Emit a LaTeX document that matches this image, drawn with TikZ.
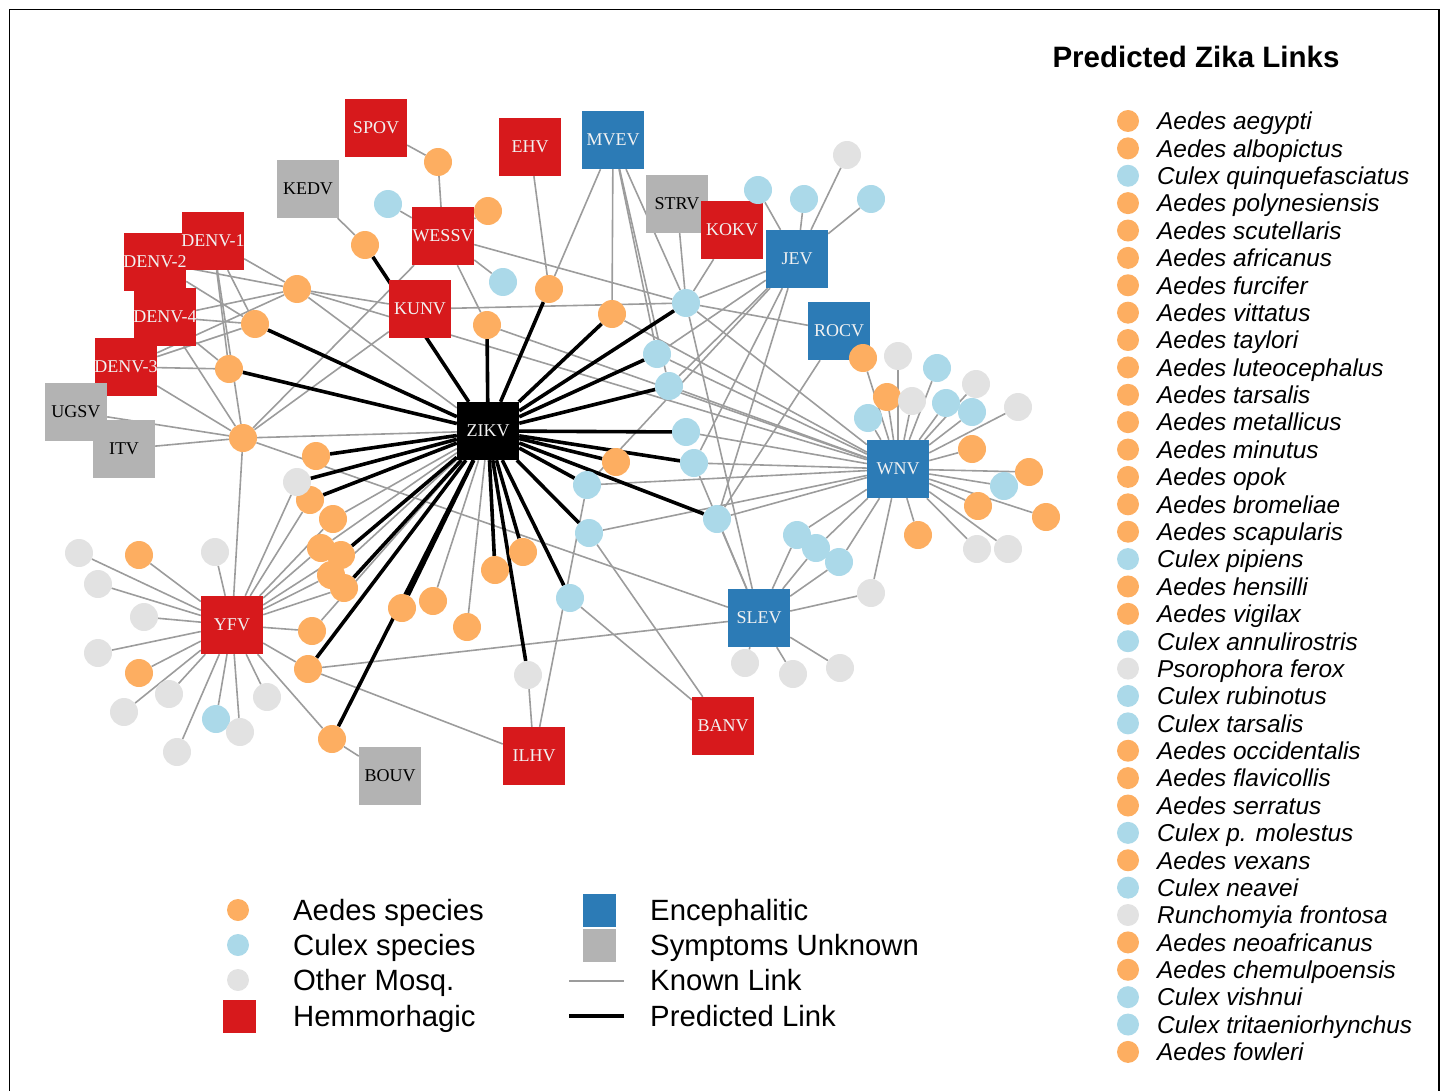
\documentclass[tikz,border=0pt]{standalone}
\usepackage{fontspec}
\setmainfont{Liberation Serif}
\newfontfamily\lsans{Liberation Sans}
\pgfdeclarelayer{edgelayer}
\pgfsetlayers{edgelayer,main}
\definecolor{aed}{HTML}{FDAE61}
\definecolor{cul}{HTML}{ABD9E9}
\definecolor{oth}{HTML}{E2E2E2}
\definecolor{hem}{HTML}{D7191C}
\definecolor{enc}{HTML}{2C7BB6}
\definecolor{unk}{HTML}{B3B3B3}
\definecolor{lnk}{HTML}{9C9C9C}
\definecolor{lbltxt}{HTML}{F2F2F2}
\tikzset{
 mos/.style={circle, minimum size=28pt, inner sep=0pt, draw=none},
 ma/.style={mos, fill=aed}, mc/.style={mos, fill=cul}, mg/.style={mos, fill=oth},
 vir/.style={rectangle, minimum width=62pt, minimum height=58pt, inner sep=0pt, draw=none},
 vh/.style={vir, fill=hem}, ve/.style={vir, fill=enc}, vu/.style={vir, fill=unk}, vz/.style={vir, fill=black},
 vlab/.style={font=\fontsize{18}{18}\selectfont, text=lbltxt, inner sep=0pt},
 vlabd/.style={vlab, text=black},
 known/.style={draw=lnk, line width=1.6pt},
 pred/.style={draw=black, line width=3.6pt},
 legdot/.style={circle, minimum size=22pt, inner sep=0pt, draw=none},
 legtxt/.style={anchor=base west, inner sep=0pt, font=\lsans\itshape\fontsize{24.4}{26}\selectfont},
 bigtxt/.style={anchor=base west, inner sep=0pt, font=\lsans\fontsize{29.3}{31}\selectfont},
}
\begin{document}
\begin{tikzpicture}[x=1pt,y=-1pt]
\useasboundingbox (0,0) rectangle (1447,1091);
\draw[line width=1.5pt] (9.5,1091) -- (9.5,9.5) -- (1439,9.5) -- (1439,1091);

% virus squares
\node[vz] (ZIKV) at (488,431) {};
\node[vh] (SPOV) at (376,128) {};
\node[vh] (EHV) at (530,147) {};
\node[ve] (MVEV) at (613,140) {};
\node[vu] (KEDV) at (308,189) {};
\node[vu] (STRV) at (677,204) {};
\node[vh] (KOKV) at (732,230) {};
\node[ve] (JEV) at (797,259) {};
\node[vh] (WESSV) at (443,236) {};
\node[vh] (DENV2) at (155,262) {};
\node[vh] (DENV1) at (213,241) {};
\node[vh] (DENV4) at (165,317) {};
\node[vh] (DENV3) at (126,367) {};
\node[vh] (KUNV) at (420,309) {};
\node[ve] (ROCV) at (839,331) {};
\node[vu] (UGSV) at (76,412) {};
\node[vu] (ITV) at (124,449) {};
\node[ve] (WNV) at (898,469) {};
\node[vh] (YFV) at (232,625) {};
\node[ve] (SLEV) at (759,618) {};
\node[vh] (BANV) at (723,726) {};
\node[vh] (ILHV) at (534,756) {};
\node[vu] (BOUV) at (390,776) {};

% mosquitoes
\node[ma] (o1) at (438,162) {};
\node[mc] (c1) at (388,204) {};
\node[ma] (o2) at (488,211) {};
\node[ma] (o3) at (365,245) {};
\node[mc] (c2) at (503,282) {};
\node[ma] (o4) at (549,289) {};
\node[ma] (o5) at (487,325) {};
\node[ma] (o6) at (612,314) {};
\node[mc] (c3) at (686,303) {};
\node[mc] (c4) at (657,354) {};
\node[mc] (c5) at (669,386) {};
\node[mc] (c6) at (686,432) {};
\node[mc] (c7) at (694,463) {};
\node[ma] (o7) at (616,462) {};
\node[mc] (c8) at (587,485) {};
\node[mc] (c9) at (589,533) {};
\node[mc] (c10) at (717,519) {};
\node[mc] (c11) at (570,598) {};
\node[ma] (o8) at (523,552) {};
\node[ma] (o9) at (495,570) {};
\node[ma] (o10) at (433,601) {};
\node[ma] (o11) at (402,608) {};
\node[ma] (o12) at (467,627) {};
\node[mg] (g1) at (528,675) {};
\node[mc] (c12) at (797,535) {};
\node[mc] (c13) at (816,548) {};
\node[mc] (c14) at (839,562) {};
\node[mg] (g2) at (871,593) {};
\node[mg] (g3) at (745,663) {};
\node[mg] (g4) at (793,674) {};
\node[mg] (g5) at (840,668) {};
\node[mc] (c15) at (868,418) {};
\node[mg] (g6) at (847,155) {};
\node[mc] (c16) at (758,190) {};
\node[mc] (c17) at (804,199) {};
\node[mc] (c18) at (871,199) {};
\node[ma] (o13) at (863,358) {};
\node[mg] (g7) at (898,356) {};
\node[mc] (c19) at (937,368) {};
\node[mg] (g8) at (976,384) {};
\node[ma] (o14) at (887,397) {};
\node[mg] (g9) at (912,401) {};
\node[mc] (c20) at (946,403) {};
\node[mc] (c21) at (972,412) {};
\node[mg] (g10) at (1018,407) {};
\node[ma] (o15) at (972,449) {};
\node[ma] (o16) at (1029,472) {};
\node[mc] (c22) at (1004,486) {};
\node[ma] (o17) at (978,506) {};
\node[ma] (o18) at (1046,517) {};
\node[ma] (o19) at (918,535) {};
\node[mg] (g11) at (977,549) {};
\node[mg] (g12) at (1008,549) {};
\node[ma] (o20) at (297,289) {};
\node[ma] (o21) at (255,324) {};
\node[ma] (o22) at (229,369) {};
\node[ma] (o23) at (243,438) {};
\node[ma] (o24) at (316,456) {};
\node[ma] (o25) at (310,500) {};
\node[mg] (g13) at (297,482) {};
\node[ma] (o26) at (333,519) {};
\node[ma] (o27) at (321,548) {};
\node[ma] (o28) at (341,555) {};
\node[ma] (o29) at (331,575) {};
\node[ma] (o30) at (344,588) {};
\node[ma] (o31) at (312,631) {};
\node[ma] (o32) at (308,669) {};
\node[ma] (o35) at (332,739) {};
\node[mg] (g14) at (79,553) {};
\node[ma] (o33) at (139,555) {};
\node[mg] (g15) at (215,552) {};
\node[mg] (g16) at (98,584) {};
\node[mg] (g17) at (144,617) {};
\node[mg] (g18) at (98,653) {};
\node[ma] (o34) at (139,673) {};
\node[mg] (g19) at (169,694) {};
\node[mg] (g20) at (124,712) {};
\node[mc] (c23) at (216,719) {};
\node[mg] (g21) at (240,732) {};
\node[mg] (g22) at (267,697) {};
\node[mg] (g23) at (177,752) {};

% virus labels (on top)
\node[vlab] (tZIKV) at (ZIKV) {ZIKV};
\node[vlab] (tSPOV) at (SPOV) {SPOV};
\node[vlab] (tEHV) at (EHV) {EHV};
\node[vlab] (tMVEV) at (MVEV) {MVEV};
\node[vlabd] (tKEDV) at (KEDV) {KEDV};
\node[vlabd] (tSTRV) at (STRV) {STRV};
\node[vlab] (tKOKV) at (KOKV) {KOKV};
\node[vlab] (tJEV) at (JEV) {JEV};
\node[vlab] (tWESSV) at (WESSV) {WESSV};
\node[vlab] (tDENV1) at (DENV1) {DENV-1};
\node[vlab] (tDENV2) at (DENV2) {DENV-2};
\node[vlab] (tDENV4) at (DENV4) {DENV-4};
\node[vlab] (tDENV3) at (DENV3) {DENV-3};
\node[vlab] (tKUNV) at (KUNV) {KUNV};
\node[vlab] (tROCV) at (ROCV) {ROCV};
\node[vlabd] (tUGSV) at (UGSV) {UGSV};
\node[vlabd] (tITV) at (ITV) {ITV};
\node[vlab] (tWNV) at (WNV) {WNV};
\node[vlab] (tYFV) at (YFV) {YFV};
\node[vlab] (tSLEV) at (SLEV) {SLEV};
\node[vlab] (tBANV) at (BANV) {BANV};
\node[vlab] (tILHV) at (ILHV) {ILHV};
\node[vlabd] (tBOUV) at (BOUV) {BOUV};

\begin{pgfonlayer}{edgelayer}
\foreach \a/\b in {SPOV/o1, WESSV/o1, WESSV/c1, WESSV/o2, KEDV/o3, WESSV/c2, WESSV/o5, WESSV/c3, WESSV/o23,
 KUNV/c3, KUNV/o20, KUNV/o23, EHV/o4, MVEV/o4, MVEV/o6, MVEV/c4, MVEV/c3, MVEV/c5,
 STRV/c3, KOKV/c3, JEV/c3, JEV/c16, JEV/c17, JEV/g6, JEV/c18, JEV/c4, JEV/c5, JEV/c7, JEV/c8, JEV/c10,
 ROCV/c3, ROCV/c10,
 WNV/c3, WNV/c4, WNV/c5, WNV/c6, WNV/c7, WNV/c8, WNV/c9, WNV/c10, WNV/o5, WNV/o6, WNV/o20,
 WNV/c12, WNV/c13, WNV/c14, WNV/g2, WNV/o13, WNV/g7, WNV/c19, WNV/g8, WNV/o14, WNV/g9, WNV/c20,
 WNV/c21, WNV/g10, WNV/c15, WNV/o15, WNV/o16, WNV/c22, WNV/o17, WNV/o18, WNV/o19, WNV/g11, WNV/g12,
 SLEV/c3, SLEV/c7, SLEV/c10, SLEV/c12, SLEV/c13, SLEV/c14, SLEV/g2, SLEV/g3, SLEV/g4, SLEV/g5,
 SLEV/o23, SLEV/o32,
 BANV/c9, BANV/c11, ILHV/g1, ILHV/c8, ILHV/o32, BOUV/o35,
 YFV/o23, YFV/g14, YFV/o33, YFV/g15, YFV/g16, YFV/g17, YFV/g18, YFV/o34, YFV/g19, YFV/g20, YFV/c23,
 YFV/g21, YFV/g22, YFV/g23, YFV/o35, YFV/o31, YFV/o32, YFV/g13, YFV/o25, YFV/o26, YFV/o27, YFV/o28,
 YFV/o29, YFV/o30,
 DENV1/o20, DENV1/o21, DENV1/o22, DENV1/o23, DENV2/o20, DENV2/o21, DENV4/o20, DENV4/o21, DENV4/o22,
 DENV4/o23, DENV3/o20, DENV3/o21, DENV3/o22, DENV3/o23, UGSV/o23, ITV/o23,
 ZIKV/o23, ZIKV/o20, ZIKV/o26, ZIKV/o27, ZIKV/o29, ZIKV/o31, ZIKV/o10, ZIKV/o12}
 {\draw[known] (\a) -- (\b);}
\foreach \b in {o3, o5, o4, o6, c3, c4, c5, c6, c7, o7, c8, c9, c10, c11, o8, o9, g1, o11, o35, o32,
 o30, o28, o25, g13, o24, o21, o22}
 {\draw[pred] (ZIKV) -- (\b);}
\end{pgfonlayer}

% bottom legend
\node[legdot, fill=aed] (la) at (238,910) {};
\node[legdot, fill=cul] (lc) at (238,945) {};
\node[legdot, fill=oth] (lo) at (238,980) {};
\node[rectangle, minimum size=33pt, inner sep=0pt, fill=hem] (lh) at (239,1016) {};
\node[bigtxt] (tla) at (293,920) {Aedes species};
\node[bigtxt] (tlc) at (293,955) {Culex species};
\node[bigtxt] (tlo) at (293,990) {Other Mosq.};
\node[bigtxt] (tlh) at (293,1026) {Hemmorhagic};
\node[rectangle, minimum size=33pt, inner sep=0pt, fill=enc] (le) at (599,910) {};
\node[rectangle, minimum size=33pt, inner sep=0pt, fill=unk] (lu) at (599,945) {};
\coordinate (lk1) at (569,981);
\coordinate (lk2) at (624,981);
\coordinate (lp1) at (569,1016);
\coordinate (lp2) at (624,1016);
\draw[known] (lk1) -- (lk2);
\draw[pred] (lp1) -- (lp2);
\node[bigtxt] (tle) at (650,920) {Encephalitic};
\node[bigtxt] (tlu) at (650,955) {Symptoms Unknown};
\node[bigtxt] (tlk) at (650,990) {Known Link};
\node[bigtxt] (tlp) at (650,1026) {Predicted Link};

% right legend
\node[inner sep=0pt, font=\lsans\bfseries\fontsize{29.5}{31}\selectfont] (title) at (1196,57) {Predicted Zika Links};
\foreach \nm/\cl [count=\i from 0] in {Aedes aegypti/aed, Aedes albopictus/aed, Culex quinquefasciatus/cul,
 Aedes polynesiensis/aed, Aedes scutellaris/aed, Aedes africanus/aed, Aedes furcifer/aed, Aedes vittatus/aed,
 Aedes taylori/aed, Aedes luteocephalus/aed, Aedes tarsalis/aed, Aedes metallicus/aed, Aedes minutus/aed,
 Aedes opok/aed, Aedes bromeliae/aed, Aedes scapularis/aed, Culex pipiens/cul, Aedes hensilli/aed,
 Aedes vigilax/aed, Culex annulirostris/cul, Psorophora ferox/oth, Culex rubinotus/cul, Culex tarsalis/cul,
 Aedes occidentalis/aed, Aedes flavicollis/aed, Aedes serratus/aed, Culex p. molestus/cul, Aedes vexans/aed,
 Culex neavei/cul, Runchomyia frontosa/oth, Aedes neoafricanus/aed, Aedes chemulpoensis/aed,
 Culex vishnui/cul, Culex tritaeniorhynchus/cul, Aedes fowleri/aed}
{
 \node[legdot, fill=\cl] (L\i) at (1128,{121+27.38*\i}) {};
 \node[legtxt] (T\i) at (1157,{129.8+27.38*\i}) {\nm};
}
\end{tikzpicture}
\end{document}
